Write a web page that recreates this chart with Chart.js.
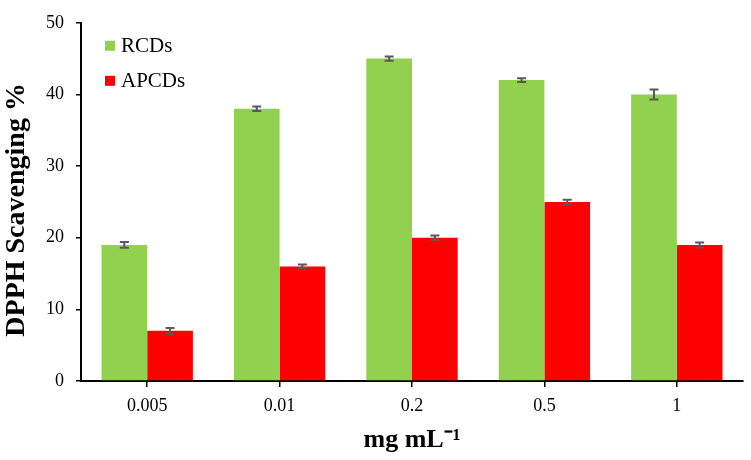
<!DOCTYPE html>
<html>
<head>
<meta charset="utf-8">
<script src="https://cdn.jsdelivr.net/npm/chart.js@4.4.1/dist/chart.umd.min.js"></script>
<style>
html,body{margin:0;padding:0;background:#fff;}
#wrap{width:751px;height:460px;position:relative;}
</style>
</head>
<body>
<div id="wrap"><canvas id="c" width="751" height="460"></canvas></div>
<script>
const categories = ["0.005", "0.01", "0.2", "0.5", "1"];
const rcdValues = [19, 38, 45, 42, 40];
const rcdErrors = [0.4, 0.3, 0.3, 0.25, 0.7];
const apcdValues = [7, 16, 20, 25, 19];
const apcdErrors = [0.4, 0.25, 0.3, 0.3, 0.35];
const yTicks = [0, 10, 20, 30, 40, 50];
const yTitle = 'DPPH Scavenging %';

const FONT = "'Liberation Serif', 'Times New Roman', serif";

const errorBarPlugin = {
  id: 'errorBars',
  afterDatasetsDraw(chart) {
    const ctx = chart.ctx;
    const y = chart.scales.y;
    ctx.save();
    ctx.strokeStyle = '#595959';
    ctx.lineWidth = 2;
    chart.data.datasets.forEach((ds, di) => {
      const meta = chart.getDatasetMeta(di);
      meta.data.forEach((bar, i) => {
        const v = ds.data[i], e = ds.errors[i];
        const yt = y.getPixelForValue(v + e);
        const yb = y.getPixelForValue(v - e);
        const x = bar.x;
        ctx.beginPath();
        ctx.moveTo(x, yt); ctx.lineTo(x, yb);
        ctx.moveTo(x - 4.5, yt); ctx.lineTo(x + 4.5, yt);
        ctx.moveTo(x - 4.5, yb); ctx.lineTo(x + 4.5, yb);
        ctx.stroke();
      });
    });
    ctx.restore();
  }
};

const legendPlugin = {
  id: 'insideLegend',
  afterDraw(chart) {
    const ctx = chart.ctx;
    const area = chart.chartArea;
    ctx.save();
    ctx.font = "21px " + FONT;
    ctx.textBaseline = 'middle';
    chart.data.datasets.forEach((ds, i) => {
      const yy = area.top + 23 + i * 35;
      ctx.fillStyle = ds.backgroundColor;
      ctx.fillRect(area.left + 24, yy - 5, 10, 10);
      ctx.fillStyle = '#000';
      ctx.fillText(ds.label, area.left + 40, yy + 1);
    });
    // rotated y-axis title
    const ys = chart.scales.y;
    ctx.translate(17, (ys.top + ys.bottom) / 2 + 8);
    ctx.rotate(-Math.PI / 2);
    ctx.font = "bold 28px " + FONT;
    ctx.textAlign = 'center';
    ctx.textBaseline = 'middle';
    ctx.fillStyle = '#000';
    ctx.fillText(yTitle, 0, 0);
    ctx.restore();
  }
};

new Chart(document.getElementById('c'), {
  type: 'bar',
  data: {
    labels: categories,
    datasets: [
      { label: 'RCDs', data: rcdValues, errors: rcdErrors, backgroundColor: '#92D050', barPercentage: 1.0, categoryPercentage: 0.69 },
      { label: 'APCDs', data: apcdValues, errors: apcdErrors, backgroundColor: '#FF0000', barPercentage: 1.0, categoryPercentage: 0.69 }
    ]
  },
  options: {
    responsive: false,
    animation: false,
    devicePixelRatio: 1,
    layout: { padding: { top: 19, right: 8, left: 0, bottom: 0 } },
    plugins: { legend: { display: false }, tooltip: { enabled: false } },
    scales: {
      x: {
        afterFit(s) { s.height = 79; },
        border: { display: true, color: '#000', width: 2 },
        grid: { display: true, drawOnChartArea: false, drawTicks: true, tickLength: 6, offset: false, color: '#000', lineWidth: 1.5 },
        ticks: { color: '#000', font: { family: FONT, size: 18 }, padding: 8 },
        title: { display: true, text: 'mg mL⁻¹', color: '#000', font: { family: FONT, size: 26, weight: 'bold' }, padding: { top: 2 } }
      },
      y: {
        min: 0, max: 50,
        afterFit(s) { s.width = 81; },
        afterBuildTicks(s) { s.ticks = yTicks.map(v => ({ value: v })); },
        border: { display: true, color: '#000', width: 2 },
        grid: { display: true, drawOnChartArea: false, drawTicks: true, tickLength: 5, color: '#000', lineWidth: 1.5 },
        ticks: { color: '#000', font: { family: FONT, size: 18 }, padding: 12 },
        title: { display: false }
      }
    }
  },
  plugins: [errorBarPlugin, legendPlugin]
});
</script>
</body>
</html>
